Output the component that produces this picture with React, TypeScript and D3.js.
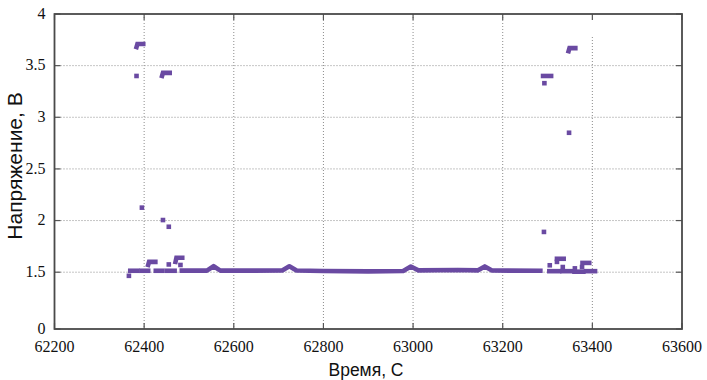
import React from 'react';
import * as d3 from 'd3';

// x ticks (seconds) and y ticks; the lowest y tick is labelled "0" although it sits at ~0.95
const xTicks = [62200, 62400, 62600, 62800, 63000, 63200, 63400, 63600];
const yTickValues = [0.95, 1.5, 2, 2.5, 3, 3.5, 4];
const yTickLabels = ['0', '1.5', '2', '2.5', '3', '3.5', '4'];

// isolated samples [time, voltage]
const singlePoints: [number, number][] = [
  [62366, 1.465], [62383, 3.40], [62395, 2.125], [62442, 2.005], [62455, 1.94],
  [62455, 1.575], [62481, 1.57],
  [63293, 3.33], [63292, 1.89], [63348, 2.85], [63305, 1.567], [63321, 1.60],
  [63334, 1.55], [63361, 1.537], [63377, 1.55],
];

// runs of densely packed samples
const runs: [number, number][][] = [
  [[62369, 1.514], [62385, 1.514]],
  [[62383, 3.68], [62385, 3.71], [62398, 3.71]],
  [[62394, 1.514], [62409, 1.514]],
  [[62409, 1.57], [62411, 1.60], [62425, 1.60]],
  [[62426, 1.514], [62440, 1.514]],
  [[62440, 3.40], [62442, 3.43], [62457, 3.43]],
  [[62450, 1.514], [62468, 1.514]],
  [[62470, 1.60], [62472, 1.64], [62485, 1.64]],
  [[63290, 3.40], [63308, 3.40]],
  [[63347, 3.64], [63349, 3.67], [63362, 3.67]],
  [[63304, 1.51], [63326, 1.51]],
  [[63321, 1.63], [63336, 1.63]],
  [[63333, 1.51], [63353, 1.51]],
  [[63360, 1.505], [63380, 1.505]],
  [[63378, 1.59], [63393, 1.59]],
  [[63386, 1.51], [63406, 1.51]],
];

// the long steady stretch
const baseline: [number, number][] = [
  [62484, 1.515], [62540, 1.515], [62555, 1.558], [62570, 1.515], [62708, 1.516],
  [62724, 1.558], [62740, 1.516], [62800, 1.512], [62900, 1.508], [62978, 1.512],
  [62995, 1.555], [63012, 1.518], [63100, 1.522], [63145, 1.518], [63160, 1.556],
  [63176, 1.516], [63284, 1.514],
];

const W = 707, H = 380;
const left = 54.5, right = 682, top = 14, bottom = 329;
const color = '#6a4aa2';
const keyBottom = 37; // empty key box hides the top of the 63400 grid line
const serif = "'Liberation Serif', 'DejaVu Serif', 'Times New Roman', serif";
const sans = "'Liberation Sans', Arial, sans-serif";

export default function App() {
  const x = d3.scaleLinear().domain([62200, 63600]).range([left, right]);
  const y = d3.scaleLinear().domain([0.95, 4]).range([bottom, top]);
  const line = d3.line<[number, number]>().x(d => x(d[0])).y(d => y(d[1]));
  const ms = 4.6;

  return (
    <svg width={W} height={H} style={{ position: 'absolute', left: 0, top: 0, background: '#fff' }}>
      {/* grid */}
      {xTicks.slice(1, -1).map(t => (
        <line key={'gx' + t} x1={x(t)} x2={x(t)} y1={t === 63400 ? keyBottom : top} y2={bottom}
          stroke="#8c8c8c" strokeWidth={1} strokeDasharray="1,2" />
      ))}
      {yTickValues.slice(1, -1).map(v => (
        <line key={'gy' + v} x1={left} x2={right} y1={y(v)} y2={y(v)}
          stroke="#8c8c8c" strokeWidth={1} strokeDasharray="1,2" />
      ))}
      {/* data */}
      <path d={line(baseline) || ''} fill="none" stroke={color} strokeWidth={ms} strokeLinecap="square" strokeLinejoin="round" />
      {runs.map((r, i) => (
        <path key={'r' + i} d={line(r) || ''} fill="none" stroke={color} strokeWidth={ms} strokeLinecap="square" strokeLinejoin="miter" />
      ))}
      {singlePoints.map((p, i) => (
        <rect key={'p' + i} x={x(p[0]) - ms / 2} y={y(p[1]) - ms / 2} width={ms} height={ms} fill={color} />
      ))}
      {/* ticks on all sides */}
      {xTicks.map(t => (
        <g key={'tx' + t} stroke="#555" strokeWidth={1.2}>
          <line x1={x(t)} x2={x(t)} y1={bottom} y2={bottom - 6} />
          <line x1={x(t)} x2={x(t)} y1={top} y2={top + 6} />
        </g>
      ))}
      {yTickValues.map(v => (
        <g key={'ty' + v} stroke="#555" strokeWidth={1.2}>
          <line x1={left} x2={left + 6} y1={y(v)} y2={y(v)} />
          <line x1={right} x2={right - 6} y1={y(v)} y2={y(v)} />
        </g>
      ))}
      {/* frame */}
      <rect x={left} y={top} width={right - left} height={bottom - top} fill="none" stroke="#4a4a4a" strokeWidth={1.8} />
      {/* tick labels */}
      {xTicks.map(t => (
        <text key={'lx' + t} x={x(t)} y={352} textAnchor="middle" style={{ fontFamily: serif, fontSize: 16 }} fill="#111">{t}</text>
      ))}
      {yTickValues.map((v, i) => (
        <text key={'ly' + v} x={45.5} y={y(v) - 1} dy="0.35em" textAnchor="end" style={{ fontFamily: serif, fontSize: 16 }} fill="#111">{yTickLabels[i]}</text>
      ))}
      {/* axis titles */}
      <text x={366} y={376} textAnchor="middle" style={{ fontFamily: sans, fontSize: 17.5 }} fill="#111">Время, С</text>
      <text transform="translate(22,166) rotate(-90)" textAnchor="middle" style={{ fontFamily: sans, fontSize: 21 }} fill="#111">Напряжение, В</text>
    </svg>
  );
}
